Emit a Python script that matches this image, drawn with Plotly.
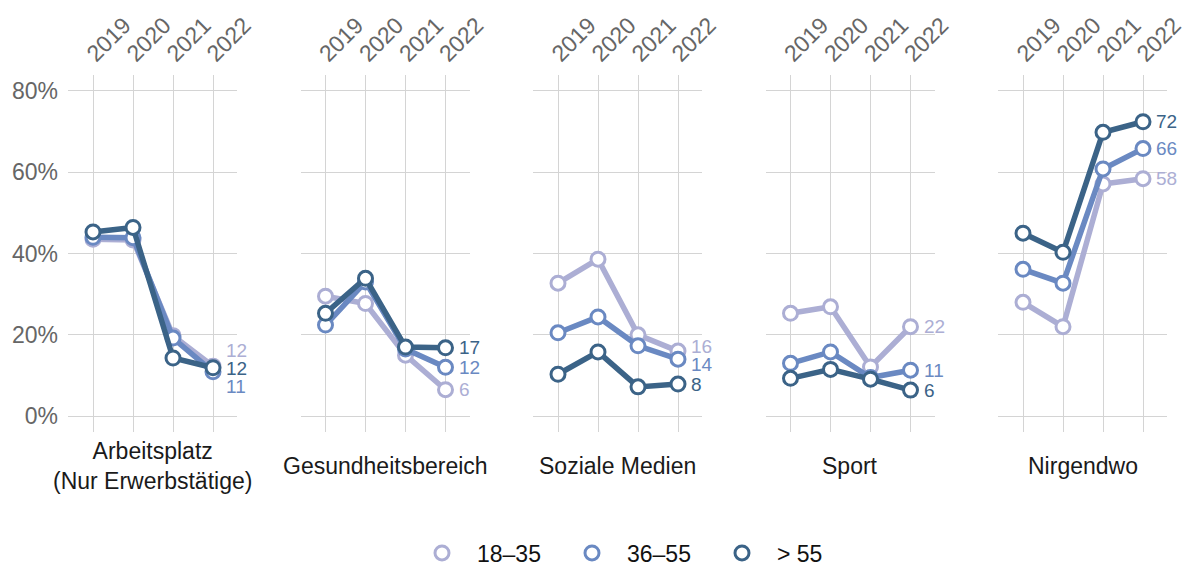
import plotly.graph_objects as go

years = ["2019", "2020", "2021", "2022"]
panels = ["Arbeitsplatz<br>(Nur Erwerbstätige)", "Gesundheitsbereich", "Soziale Medien", "Sport", "Nirgendwo"]
groups = ["18–35", "36–55", "> 55"]
colors = ["#acaed4", "#6a89c2", "#3b6387"]
yticks = [0, 20, 40, 60, 80]

# values per panel, per group (percent)
v_18_35 = [
    [43.5, 43.3, 19.8, 12.3],
    [29.5, 27.7, 15.0, 6.5],
    [32.7, 38.6, 20.0, 16.0],
    [25.3, 26.9, 12.1, 22.0],
    [28.0, 22.0, 57.1, 58.4],
]
v_36_55 = [
    [44.0, 43.9, 19.2, 10.9],
    [22.4, 33.0, 16.5, 12.0],
    [20.5, 24.4, 17.3, 14.0],
    [13.0, 15.8, 9.5, 11.3],
    [36.1, 32.7, 60.8, 65.8],
]
v_55_plus = [
    [45.3, 46.4, 14.3, 11.9],
    [25.3, 33.9, 17.0, 16.8],
    [10.3, 15.8, 7.2, 7.9],
    [9.3, 11.5, 9.1, 6.4],
    [45.0, 40.3, 69.8, 72.4],
]
series = [v_18_35, v_36_55, v_55_plus]

FONT = "Liberation Sans, Arial, Helvetica, sans-serif"
W, H = 1184, 567
ML, MR, MT, MB = 68, 17, 75, 135
plot_w = W - ML - MR
plot_h = H - MT - MB
panel_w = 169
panel_step = 232.5

fig = go.Figure()

def dodge(vals, gap=4.4):
    # simple repel: keep labels at least `gap` apart, preserving order
    idx = sorted(range(len(vals)), key=lambda i: -vals[i])
    pos = {i: vals[i] for i in idx}
    for _ in range(50):
        moved = False
        for a, b in zip(idx[:-1], idx[1:]):
            d = pos[a] - pos[b]
            if d < gap - 1e-6:
                shift = (gap - d) / 2
                pos[a] += shift
                pos[b] -= shift
                moved = True
        if not moved:
            break
    return [pos[i] for i in range(len(vals))]

annotations = []
for p, name in enumerate(panels):
    ax = "" if p == 0 else str(p + 1)
    left = (p * panel_step) / plot_w
    right = (p * panel_step + panel_w) / plot_w
    for g in range(3):
        fig.add_trace(go.Scatter(
            x=years, y=series[g][p], mode="lines+markers",
            line=dict(color=colors[g], width=5.5),
            marker=dict(size=14, color="white", line=dict(color=colors[g], width=3)),
            showlegend=False, xaxis="x" + ax, yaxis="y" + ax, hoverinfo="skip",
        ))
    last = [series[g][p][-1] for g in range(3)]
    ypos = dodge(last)
    for g in range(3):
        annotations.append(dict(
            x=len(years) - 1, y=ypos[g], xref="x" + ax, yref="y" + ax,
            text=str(round(last[g])), showarrow=False, xanchor="left", yanchor="middle",
            xshift=11, font=dict(family=FONT, size=19, color=colors[g]),
        ))
    annotations.append(dict(
        x=(left + right) / 2, y=-0.095, xref="paper", yref="paper",
        text=name, showarrow=False, xanchor="center", yanchor="middle",
        font=dict(family=FONT, size=23, color="#1a1a1a"),
    ))
    fig.layout["xaxis" + ax] = dict(
        domain=[left, right], type="category", categoryorder="array", categoryarray=years,
        range=[-0.625, 3.6], side="top", tickangle=-45, showgrid=True, gridcolor="#d4d4d4",
        gridwidth=1, zeroline=False, showline=False, ticks="", automargin=False,
        ticklabelstandoff=3, ticklabelshift=-5,
        tickfont=dict(family=FONT, size=23, color="#666666"), anchor="y" + ax,
    )
    fig.layout["yaxis" + ax] = dict(
        domain=[0, 1], range=[-3.9, 83.9], tickmode="array", tickvals=yticks,
        ticktext=[f"{t}%" for t in yticks], automargin=False,
        showgrid=True, gridcolor="#d4d4d4", gridwidth=1, zeroline=False, showline=False,
        showticklabels=(p == 0), ticks="", ticklabelstandoff=9,
        tickfont=dict(family=FONT, size=23, color="#666666"), anchor="x" + ax,
    )

for g in range(3):
    fig.add_trace(go.Scatter(
        x=[None], y=[None], mode="markers", name=groups[g],
        marker=dict(size=14, color="white", line=dict(color=colors[g], width=3)),
        showlegend=True,
    ))

fig.update_layout(
    width=W, height=H, margin=dict(l=ML, r=MR, t=MT, b=MB, autoexpand=False),
    paper_bgcolor="white", plot_bgcolor="white",
    annotations=annotations,
    legend=dict(orientation="h", x=632 / W, xref="container", xanchor="center",
                y=14 / H, yref="container", yanchor="middle",
                font=dict(family=FONT, size=23, color="#111111"), entrywidth=75,
                itemwidth=60),
    font=dict(family=FONT),
)

fig.write_html("out.html", config={"displayModeBar": False},
               post_script="document.body.style.margin='0';")
